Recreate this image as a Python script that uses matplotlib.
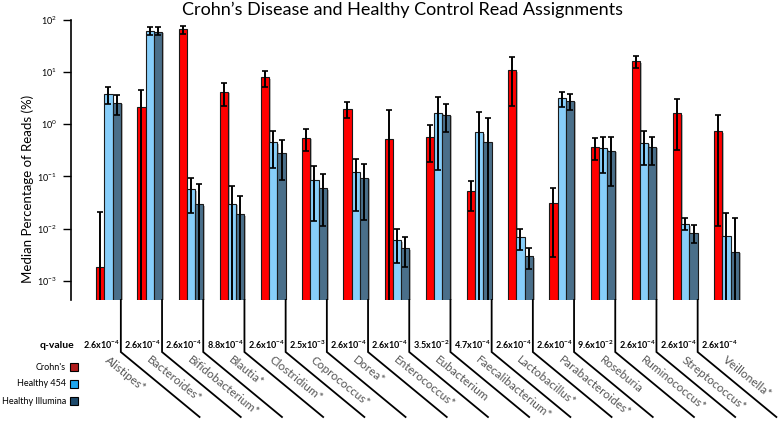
import numpy as np
import matplotlib
matplotlib.use("Agg")
import matplotlib.pyplot as plt
import matplotlib.transforms as mtransforms
import matplotlib.patheffects as pe
from matplotlib.patches import Rectangle

plt.rcParams['font.family'] = ['Lato', 'DejaVu Sans']
plt.rcParams['mathtext.default'] = 'regular'

# data (median % of reads, with error bar bounds)
genera = ['Alistipes*', 'Bacteroides*', 'Bifidobacterium*', 'Blautia*', 'Clostridium*',
          'Coprococcus*', 'Dorea*', 'Enterococcus*', 'Eubacterium', 'Faecalibacterium*',
          'Lactobacillus*', 'Parabacteroides*', 'Roseburia', 'Ruminococcus*',
          'Streptococcus*', 'Veillonella*']
q_mant = [2.6, 2.6, 2.6, 8.8, 2.6, 2.5, 2.6, 2.6, 3.5, 4.7, 2.6, 2.6, 9.6, 2.6, 2.6, 2.6]
q_exp = [-4, -4, -4, -4, -4, -3, -4, -4, -2, -4, -4, -4, -2, -4, -4, -4]

series = ["Crohn's", 'Healthy 454', 'Healthy Illumina']

crohns = [1.8e-3, 2.1, 66, 4.2, 7.9, 0.55, 1.96, 0.515, 0.578, 0.052, 11, 0.031, 0.37, 16.3, 1.62, 0.74]
crohns_lo = [1e-4, 1e-4, 55, 2.2, 5.3, 0.31, 1.3, 1e-4, 0.19, 0.022, 2.2, 0.0029, 0.206, 11.8, 0.32, 0.0112]
crohns_hi = [0.0207, 4.5, 78, 6.3, 10.7, 0.81, 2.64, 1.88, 0.97, 0.083, 19.8, 0.059, 0.55, 20.7, 3.0, 1.49]

h454 = [3.75, 61.5, 0.0565, 0.030, 0.45, 0.085, 0.12, 0.006, 1.67, 0.70, 0.0068, 3.14, 0.346, 0.443, 0.0122, 0.0072]
h454_lo = [2.4, 52, 0.020, 1e-4, 0.147, 0.0139, 0.022, 0.0022, 0.133, 1e-4, 0.0039, 2.1, 0.118, 0.165, 0.0094, 1e-4]
h454_hi = [5.3, 73, 0.094, 0.066, 0.75, 0.16, 0.215, 0.0097, 3.3, 1.74, 0.0099, 4.2, 0.58, 0.74, 0.016, 0.020]

hill = [2.6, 60, 0.029, 0.0188, 0.285, 0.059, 0.094, 0.0042, 1.53, 0.46, 0.0029, 2.83, 0.31, 0.37, 0.0081, 0.0036]
hill_lo = [1.5, 51, 1e-4, 1e-4, 0.084, 0.0112, 0.0146, 0.0018, 0.70, 1e-4, 0.00165, 1.88, 0.064, 0.165, 0.0052, 1e-4]
hill_hi = [3.7, 73, 0.070, 0.043, 0.49, 0.11, 0.175, 0.0068, 2.4, 1.32, 0.0042, 3.75, 0.58, 0.58, 0.0115, 0.0157]

bar_colors = ['#ff0000', '#87cefa', '#4a6f8a']
legend_colors = ['#b01c1c', '#1ea6ee', '#1d4a6c']

W, H = 778, 422
fig = plt.figure(figsize=(W / 100, H / 100), dpi=100)
ax = fig.add_axes([70.7 / W, 1 - 300 / H, 1 - 70.7 / W, 280 / H])

x = np.arange(len(genera))
w = 0.2
shadow = [pe.SimplePatchShadow(offset=(1.2, -1.2), shadow_rgbFace='#888888', alpha=0.6), pe.Normal()]
for k, (vals, lo, hi) in enumerate([(crohns, crohns_lo, crohns_hi),
                                    (h454, h454_lo, h454_hi),
                                    (hill, hill_lo, hill_hi)]):
    vals = np.array(vals)
    err = np.vstack([vals - np.array(lo), np.array(hi) - vals])
    pos = x + (k - 1) * w
    bars = ax.bar(pos, vals, w, bottom=1e-5, color=bar_colors[k], edgecolor='#1a1a1a',
                  linewidth=0.8, zorder=2)
    for b in bars:
        b.set_path_effects(shadow)
    ax.errorbar(pos, vals, yerr=err, fmt='none', ecolor='black', elinewidth=1.4,
                capsize=2.2, capthick=1.2, zorder=3)

ax.set_yscale('log')
ax.set_ylim(10 ** -3.371, 100)
ax.set_xlim(-0.917, 16.25)
ax.set_yticks([1e-3, 1e-2, 1e-1, 1, 10, 100])
ax.set_yticklabels([r'$10^{%d}$' % e for e in range(-3, 3)])
ax.yaxis.set_minor_locator(matplotlib.ticker.NullLocator())
ax.tick_params(axis='y', length=6, width=1, labelsize=6.5, pad=4)
ax.tick_params(axis='x', bottom=False, labelbottom=False)
for s in ['top', 'right', 'bottom']:
    ax.spines[s].set_visible(False)
ax.spines['left'].set_linewidth(1.2)

fig.text(402 / W, 1 - 10 / H, "Crohn\u2019s Disease and Healthy Control Read Assignments",
         ha='center', va='center', fontsize=13)
fig.text(28 / W, 1 - 189 / H, 'Median Percentage of Reads (%)', rotation=90,
         ha='center', va='center', fontsize=9.5)

# leader lines, q-values and rotated genus labels under the plot
tr = mtransforms.blended_transform_factory(ax.transData, fig.transFigure)
px = 1 / 41.2
for i, name in enumerate(genera):
    xr = x[i] + 1.5 * w
    if i < len(genera) - 1:
        ax.plot([xr, xr, xr + 78.7 * px], [1 - 300 / H, 1 - 352 / H, 1 - 417 / H],
                transform=tr, color='black', lw=1.3, clip_on=False, solid_joinstyle='miter')
    ax.text(x[i] - 7 * px, 1 - 345 / H, r'%.1fx10$^{%d}$' % (q_mant[i], q_exp[i]),
            transform=tr, ha='center', va='center', fontsize=6.5, fontweight='bold')
    ax.text(xr - 11 * px, 1 - 354 / H, name, transform=tr, rotation=-39,
            rotation_mode='anchor', ha='left', va='top', fontsize=8.5, color='#555555')

fig.text(74 / W, 1 - 345 / H, 'q-value', ha='right', va='center', fontsize=7.5, fontweight='bold')

for k, name in enumerate(series):
    yc = 367 + 17 * k
    fig.patches.append(Rectangle((70 / W, 1 - (yc + 4) / H), 8 / W, 8 / H,
                                 transform=fig.transFigure, facecolor=legend_colors[k],
                                 edgecolor='black', linewidth=0.8))
    fig.text(66 / W, 1 - yc / H, name, ha='right', va='center', fontsize=6.5)

fig.savefig('out.png', dpi=100)
